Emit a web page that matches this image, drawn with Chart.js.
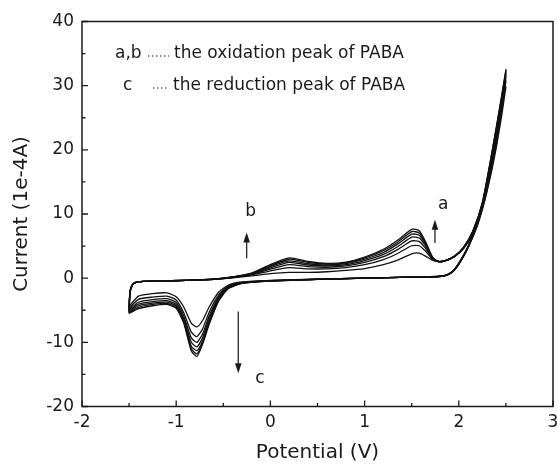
<!DOCTYPE html>
<html>
<head>
<meta charset="utf-8">
<script src="https://cdn.jsdelivr.net/npm/chart.js@4.4.1/dist/chart.umd.min.js"></script>
<style>
  html, body { margin: 0; padding: 0; background: #fff; }
  #wrap { width: 557px; height: 466px; position: relative; }
</style>
</head>
<body>
<div id="wrap"><canvas id="cv"></canvas></div>
<script>

// Potential (V): forward scan -1.5 -> 2.5, then reverse scan back to -1.5
const potential = [
  -1.5, -1.49, -1.46, -1.4, -1.2, -0.9, -0.6, -0.4, -0.2, 0, 0.2, 0.4, 0.6, 0.8, 1.0,
  1.2, 1.35, 1.5, 1.58, 1.65, 1.72, 1.78, 1.85, 1.95, 2.05, 2.15, 2.25, 2.35, 2.45, 2.5,
  2.4, 2.3, 2.2, 2.1, 2.02, 1.95, 1.88, 1.8, 1.5, 1.0, 0.5, 0, -0.3, -0.45, -0.55,
  -0.65, -0.72, -0.78, -0.84, -0.92, -1.0, -1.1, -1.25, -1.4, -1.5
]

// Current (1e-4A), one array per scan cycle, same order as potential
const cycle1 = [
  -4.4, -2.0, -0.9, -0.55, -0.45, -0.35, -0.2, 0.05, 0.35, 0.7, 0.9, 0.9, 1.0, 1.2, 1.5,
  2.1, 2.8, 3.8, 3.9, 3.4, 2.8, 2.6, 2.7, 3.3, 4.6, 7.0, 11.0, 18.0, 26.0, 29.8,
  20.5, 13.5, 8.3, 4.8, 2.6, 1.2, 0.5, 0.25, 0.15, 0.0, -0.15, -0.35, -0.6, -1.1, -2.2,
  -4.5, -6.6, -7.6, -7.0, -4.5, -2.9, -2.3, -2.4, -2.8, -4.4
]
const cycle2 = [
  -4.7, -2.05, -0.9, -0.55, -0.45, -0.35, -0.19, 0.1, 0.5, 1.15, 1.65, 1.45, 1.45, 1.65, 2.1,
  2.9, 3.85, 5.05, 5.05, 4.15, 2.95, 2.6, 2.7, 3.3, 4.65, 7.1, 11.3, 18.5, 26.6, 30.7,
  21.0, 13.8, 8.4, 4.85, 2.65, 1.2, 0.5, 0.26, 0.15, 0.0, -0.16, -0.38, -0.66, -1.25, -2.6,
  -5.3, -7.9, -9.1, -8.4, -5.4, -3.4, -2.8, -2.95, -3.3, -4.7
]
const cycle3 = [
  -4.9, -2.1, -0.92, -0.55, -0.45, -0.35, -0.18, 0.12, 0.58, 1.4, 2.1, 1.8, 1.7, 1.9, 2.45,
  3.35, 4.45, 5.8, 5.7, 4.6, 3.05, 2.6, 2.7, 3.35, 4.7, 7.2, 11.4, 18.8, 27.0, 31.3,
  21.4, 14.0, 8.5, 4.9, 2.7, 1.25, 0.52, 0.27, 0.15, 0.0, -0.17, -0.4, -0.7, -1.35, -2.9,
  -5.9, -8.7, -10.0, -9.3, -5.9, -3.8, -3.2, -3.35, -3.75, -4.9
]
const cycle4 = [
  -5.1, -2.1, -0.92, -0.55, -0.45, -0.35, -0.17, 0.15, 0.65, 1.6, 2.45, 2.05, 1.9, 2.1, 2.75,
  3.7, 4.9, 6.4, 6.25, 4.95, 3.15, 2.6, 2.7, 3.35, 4.7, 7.25, 11.5, 19.0, 27.3, 31.7,
  21.7, 14.1, 8.6, 4.9, 2.7, 1.25, 0.52, 0.28, 0.15, 0.0, -0.18, -0.42, -0.73, -1.45, -3.1,
  -6.3, -9.3, -10.7, -10.0, -6.3, -4.1, -3.5, -3.65, -4.05, -5.1
]
const cycle5 = [
  -5.25, -2.15, -0.94, -0.55, -0.45, -0.35, -0.16, 0.17, 0.7, 1.8, 2.7, 2.25, 2.05, 2.25, 2.95,
  4.0, 5.3, 6.85, 6.7, 5.2, 3.2, 2.6, 2.7, 3.35, 4.75, 7.3, 11.6, 19.2, 27.6, 32.0,
  22.0, 14.3, 8.7, 4.95, 2.75, 1.3, 0.54, 0.29, 0.15, 0.0, -0.19, -0.43, -0.76, -1.55, -3.3,
  -6.7, -9.8, -11.3, -10.6, -6.6, -4.35, -3.75, -3.9, -4.3, -5.25
]
const cycle6 = [
  -5.4, -2.2, -0.95, -0.55, -0.45, -0.35, -0.15, 0.19, 0.75, 1.95, 2.95, 2.45, 2.2, 2.4, 3.15,
  4.3, 5.6, 7.25, 7.05, 5.4, 3.25, 2.6, 2.7, 3.4, 4.8, 7.35, 11.7, 19.4, 27.8, 32.3,
  22.3, 14.4, 8.75, 5.0, 2.8, 1.3, 0.55, 0.3, 0.15, 0.0, -0.2, -0.44, -0.78, -1.62, -3.45,
  -7.0, -10.1, -11.8, -11.0, -6.8, -4.55, -3.95, -4.1, -4.55, -5.4
]
const cycle7 = [
  -5.5, -2.2, -0.95, -0.55, -0.45, -0.35, -0.15, 0.2, 0.8, 2.1, 3.15, 2.6, 2.3, 2.5, 3.3,
  4.5, 5.9, 7.6, 7.4, 5.6, 3.3, 2.6, 2.7, 3.4, 4.8, 7.4, 11.8, 19.5, 28.0, 32.5,
  22.5, 14.5, 8.8, 5.0, 2.8, 1.3, 0.55, 0.3, 0.15, 0.0, -0.2, -0.45, -0.8, -1.7, -3.6,
  -7.2, -10.3, -12.2, -11.3, -7.0, -4.7, -4.1, -4.3, -4.75, -5.5
]

const cycles = [cycle1, cycle2, cycle3, cycle4, cycle5, cycle6, cycle7]

// Axis ticks
const xTicks = [-2, -1, 0, 1, 2, 3]
const xMinorTicks = [-1.5, -0.5, 0.5, 1.5, 2.5]
const yTicks = [-20, -10, 0, 10, 20, 30, 40]
const yMinorTicks = [-15, -5, 5, 15, 25, 35]

// Texts
const legendLines = [
  ['a,b', 'the oxidation peak of PABA'],
  ['c', 'the reduction peak of PABA']
]
const peakLabels = ['a', 'b', 'c']

const FONT = '"DejaVu Sans", "Liberation Sans", Arial, sans-serif'
const INK = '#1a1a1a'

// Frame, inward ticks, legend and arrows.
const extrasPlugin = {
  id: 'extras',
  afterDraw(chart) {
    const { ctx, chartArea: a, scales: { x, y } } = chart
    ctx.save()

    ctx.strokeStyle = INK
    ctx.lineWidth = 1.5
    ctx.strokeRect(a.left, a.top, a.right - a.left, a.bottom - a.top)

    ctx.lineWidth = 1.3
    ctx.beginPath()
    xTicks.forEach(v => { const p = x.getPixelForValue(v); ctx.moveTo(p, a.bottom); ctx.lineTo(p, a.bottom - 6) })
    xMinorTicks.forEach(v => { const p = x.getPixelForValue(v); ctx.moveTo(p, a.bottom); ctx.lineTo(p, a.bottom - 3.5) })
    yTicks.forEach(v => { const p = y.getPixelForValue(v); ctx.moveTo(a.left, p); ctx.lineTo(a.left + 6, p) })
    yMinorTicks.forEach(v => { const p = y.getPixelForValue(v); ctx.moveTo(a.left, p); ctx.lineTo(a.left + 3.5, p) })
    ctx.stroke()

    // legend
    ctx.fillStyle = INK
    ctx.font = '17px ' + FONT
    ctx.textBaseline = 'middle'
    ctx.textAlign = 'left'
    ctx.fillText(legendLines[0][0], 115, 54)
    ctx.fillText(legendLines[0][1], 174, 54)
    ctx.fillText(legendLines[1][0], 123, 86)
    ctx.fillText(legendLines[1][1], 173, 86)

    ctx.strokeStyle = '#666'
    ctx.lineWidth = 1.3
    ctx.setLineDash([1.5, 2.5])
    ctx.beginPath()
    ctx.moveTo(148, 56); ctx.lineTo(169, 56)
    ctx.moveTo(153, 88); ctx.lineTo(169, 88)
    ctx.stroke()
    ctx.setLineDash([])

    // arrows
    const arrow = (xv, y0, y1) => {
      const px = x.getPixelForValue(xv)
      const p0 = y.getPixelForValue(y0)
      const p1 = y.getPixelForValue(y1)
      const dir = p1 < p0 ? 1 : -1
      ctx.strokeStyle = '#333'
      ctx.lineWidth = 1.4
      ctx.beginPath()
      ctx.moveTo(px, p0)
      ctx.lineTo(px, p1 + dir * 8)
      ctx.stroke()
      ctx.fillStyle = '#1a1a1a'
      ctx.beginPath()
      ctx.moveTo(px, p1)
      ctx.lineTo(px - 3.3, p1 + dir * 10)
      ctx.lineTo(px + 3.3, p1 + dir * 10)
      ctx.closePath()
      ctx.fill()
    }
    arrow(1.747, 5.5, 9.1)
    arrow(-0.252, 3.1, 7.1)
    arrow(-0.341, -5.2, -14.8)

    ctx.fillStyle = INK
    ctx.font = '17px ' + FONT
    ctx.textAlign = 'center'
    ctx.fillText(peakLabels[0], x.getPixelForValue(1.835), y.getPixelForValue(11.4))
    ctx.fillText(peakLabels[1], x.getPixelForValue(-0.209), y.getPixelForValue(10.4))
    ctx.fillText(peakLabels[2], x.getPixelForValue(-0.11), y.getPixelForValue(-15.6))

    ctx.restore()
  }
}

const datasets = cycles.map((c, i) => ({
  label: 'cycle ' + (i + 1),
  data: potential.map((e, j) => ({ x: e, y: c[j] })),
  showLine: true,
  borderColor: '#111',
  borderWidth: 1.3,
  pointRadius: 0,
  tension: 0.2,
  fill: false
}))

new Chart(document.getElementById('cv'), {
  type: 'scatter',
  data: { datasets },
  options: {
    responsive: true,
    maintainAspectRatio: false,
    animation: false,
    layout: { padding: { left: 0, top: 21.5, right: 4, bottom: 0 } },
    plugins: { legend: { display: false }, tooltip: { enabled: false } },
    scales: {
      x: {
        type: 'linear',
        min: -2,
        max: 3,
        afterBuildTicks: s => { s.ticks = xTicks.map(v => ({ value: v })) },
        afterFit: s => { s.height = 59.5; s.paddingLeft = 0; s.paddingRight = 0 },
        grid: { display: false, drawTicks: false },
        border: { display: false },
        ticks: { color: INK, padding: 6, maxRotation: 0, font: { family: FONT, size: 17 } },
        title: { display: true, text: 'Potential (V)', color: INK, padding: { top: 0, bottom: 1 }, font: { family: FONT, size: 20 } }
      },
      y: {
        type: 'linear',
        min: -20,
        max: 40,
        afterBuildTicks: s => { s.ticks = yTicks.map(v => ({ value: v })) },
        afterFit: s => { s.width = 82; s.paddingTop = 0; s.paddingBottom = 0 },
        grid: { display: false, drawTicks: false },
        border: { display: false },
        ticks: { color: INK, padding: 8, font: { family: FONT, size: 17 } },
        title: { display: true, text: 'Current (1e-4A)', color: INK, padding: { top: 10, bottom: 0 }, font: { family: FONT, size: 20 } }
      }
    }
  },
  plugins: [extrasPlugin]
})

</script>
</body>
</html>
